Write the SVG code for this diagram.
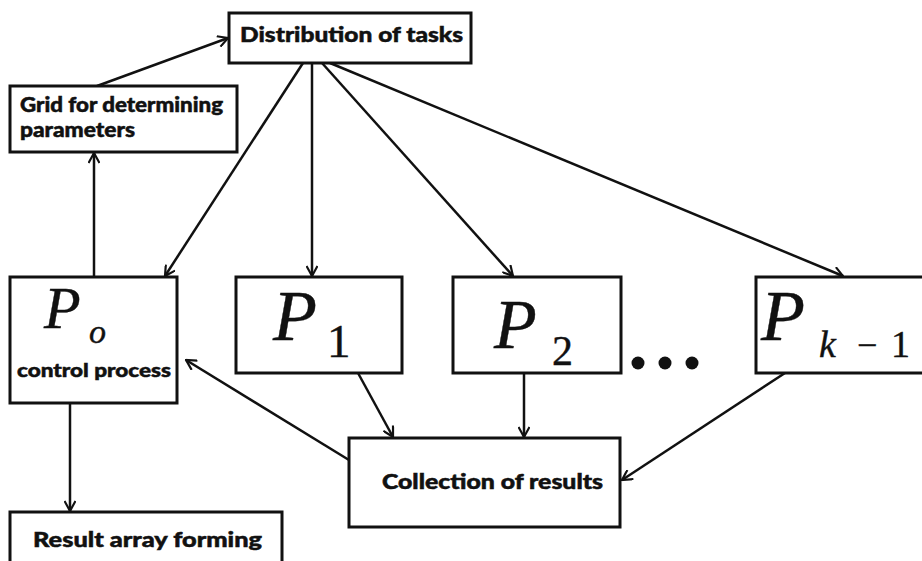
<svg xmlns="http://www.w3.org/2000/svg" width="922" height="561" viewBox="0 0 922 561">
<style>
.box{fill:#fff;stroke:#111;stroke-width:3}
.lbl{font-family:Lato,"Open Sans","Liberation Sans",sans-serif;font-weight:900;fill:#111;stroke:#111;stroke-width:0.5}
.math{font-family:"Liberation Serif","DejaVu Serif",serif;font-style:italic;fill:#111;stroke:#111;stroke-width:0.4}
.num{font-family:"Liberation Serif","DejaVu Serif",serif;fill:#111;stroke:#111;stroke-width:0.4}
.edge{fill:none;stroke:#111;stroke-width:2.5;marker-end:url(#arr)}
</style>
<defs>
<marker id="arr" viewBox="0 0 12 12" refX="11" refY="6" markerWidth="12" markerHeight="12" markerUnits="userSpaceOnUse" orient="auto">
<path d="M1,0.5 L11,6 L1,11.5" fill="none" stroke="#111" stroke-width="2.2"/>
</marker>
</defs>
<rect width="922" height="561" fill="#fff"/>
<g id="connectors">
<line class="edge" x1="97" y1="86" x2="228" y2="38"/>
<line class="edge" x1="303" y1="63" x2="165" y2="276"/>
<line class="edge" x1="312" y1="63" x2="312" y2="276"/>
<line class="edge" x1="322" y1="63" x2="513" y2="276"/>
<line class="edge" x1="330" y1="63" x2="843" y2="276"/>
<line class="edge" x1="94" y1="277" x2="94" y2="153"/>
<line class="edge" x1="70" y1="403" x2="70" y2="511"/>
<line class="edge" x1="358" y1="373" x2="393" y2="437"/>
<line class="edge" x1="524" y1="373" x2="524" y2="437"/>
<line class="edge" x1="785" y1="373" x2="622" y2="480"/>
<line class="edge" x1="349" y1="460" x2="186" y2="360"/>
</g>
<g id="distribution">
<rect class="box" x="229" y="13" width="242" height="50"/>
<text class="lbl" x="240" y="42" font-size="21" textLength="223" lengthAdjust="spacingAndGlyphs">Distribution of tasks</text>
</g>
<g id="grid">
<rect class="box" x="10" y="86" width="227" height="66"/>
<text class="lbl" x="20" y="112" font-size="20" textLength="203" lengthAdjust="spacingAndGlyphs">Grid for determining</text>
<text class="lbl" x="20" y="137" font-size="20" textLength="115" lengthAdjust="spacingAndGlyphs">parameters</text>
</g>
<g id="p0">
<rect class="box" x="10" y="277" width="167" height="126"/>
<text class="math" x="44" y="328" font-size="60">P</text>
<text class="math" x="89" y="343" font-size="34">o</text>
<text class="lbl" x="17" y="377" font-size="19" textLength="154" lengthAdjust="spacingAndGlyphs">control process</text>
</g>
<g id="p1">
<rect class="box" x="236" y="277" width="166" height="96"/>
<text class="math" x="273" y="340" font-size="72">P</text>
<text class="num" x="327" y="357" font-size="47">1</text>
</g>
<g id="p2">
<rect class="box" x="453" y="277" width="168" height="96"/>
<text class="math" x="494" y="348" font-size="70">P</text>
<text class="num" x="552" y="365" font-size="42">2</text>
</g>
<g id="dots">
<circle cx="638" cy="363" r="6.5" fill="#111"/>
<circle cx="665" cy="363" r="6.5" fill="#111"/>
<circle cx="692" cy="363" r="6.5" fill="#111"/>
</g>
<g id="pk1">
<rect class="box" x="756" y="277" width="170" height="96"/>
<text class="math" x="761" y="340" font-size="72">P</text>
<text class="math" x="819" y="357" font-size="38">k</text>
<text class="num" x="857" y="357" font-size="36">−</text>
<text class="num" x="891" y="357" font-size="38">1</text>
</g>
<g id="collection">
<rect class="box" x="349" y="438" width="271" height="89"/>
<text class="lbl" x="382" y="489" font-size="20" textLength="221" lengthAdjust="spacingAndGlyphs">Collection of results</text>
</g>
<g id="result">
<rect class="box" x="10" y="512" width="272" height="60"/>
<text class="lbl" x="33" y="547" font-size="21" textLength="229" lengthAdjust="spacingAndGlyphs">Result array forming</text>
</g>
</svg>
